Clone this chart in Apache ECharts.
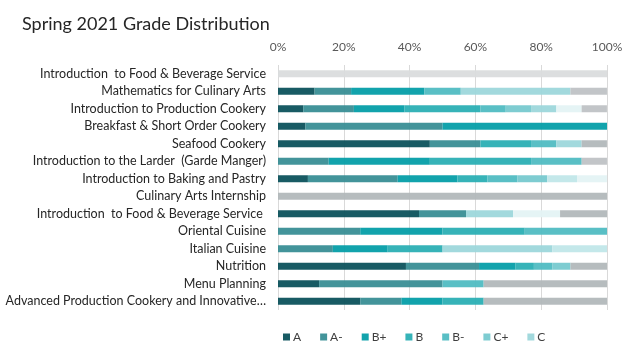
<!DOCTYPE html>
<html>
<head>
<meta charset="utf-8">
<script src="https://cdn.jsdelivr.net/npm/echarts@6/dist/echarts.min.js"></script>
<style>
html,body{margin:0;padding:0;background:#fff;}
#chart{width:627px;height:348px;}
</style>
</head>
<body>
<div id="chart"></div>
<script>
const categories = [
  "Introduction  to Food & Beverage Service",
  "Mathematics for Culinary Arts",
  "Introduction to Production Cookery",
  "Breakfast & Short Order Cookery",
  "Seafood Cookery",
  "Introduction to the Larder  (Garde Manger)",
  "Introduction to Baking and Pastry",
  "Culinary Arts Internship",
  "Introduction  to Food & Beverage Service ",
  "Oriental Cuisine",
  "Italian Cuisine",
  "Nutrition",
  "Menu Planning",
  "Advanced Production Cookery and Innovative\u2026"
];
const xTicks = [0, 20, 40, 60, 80, 100];
const legendNames = ["A", "A-", "B+", "B", "B-", "C+", "C"];

const gradeA      = [0, 11.11, 7.69, 8.33, 46.15, 0, 9.09, 0, 42.86, 0, 0, 38.89, 12.5, 25];
const gradeAminus = [0, 11.11, 15.38, 41.67, 15.38, 15.38, 27.27, 0, 14.29, 25, 16.67, 22.22, 37.5, 12.5];
const gradeBplus  = [0, 22.22, 15.38, 50, 0, 30.77, 18.18, 0, 0, 25, 16.67, 11.11, 0, 12.5];
const gradeB      = [0, 0, 23.08, 0, 15.38, 30.77, 9.09, 0, 0, 25, 16.67, 5.56, 0, 12.5];
const gradeBminus = [0, 11.11, 7.69, 0, 7.69, 15.38, 9.09, 0, 0, 25, 0, 5.56, 12.5, 0];
const gradeCplus  = [0, 0, 7.69, 0, 0, 0, 9.09, 0, 0, 0, 0, 5.56, 0, 0];
const gradeC      = [0, 33.33, 7.69, 0, 7.69, 0, 0, 0, 14.29, 0, 33.33, 0, 0, 0];
const gradeCminus = [0, 0, 0, 0, 0, 0, 9.09, 0, 0, 0, 16.67, 0, 0, 0];
const gradeD      = [0, 0, 7.69, 0, 0, 0, 9.09, 0, 14.29, 0, 0, 0, 0, 0];
const gradeF      = [0, 11.11, 7.69, 0, 0, 7.69, 0, 0, 0, 0, 0, 0, 0, 0];
const gradeW      = [0, 0, 0, 0, 7.69, 0, 0, 100, 14.29, 0, 0, 11.11, 37.5, 37.5];
const gradeOther  = [100, 0, 0, 0, 0, 0, 0, 0, 0, 0, 0, 0, 0, 0];

const seriesDefs = [
  ["A", gradeA, "#064f58"],
  ["A-", gradeAminus, "#358c92"],
  ["B+", gradeBplus, "#009ca6"],
  ["B", gradeB, "#27adb3"],
  ["B-", gradeBminus, "#4cbac1"],
  ["C+", gradeCplus, "#74c8cd"],
  ["C", gradeC, "#9bd6da"],
  ["C-", gradeCminus, "#bfe6e8"],
  ["D", gradeD, "#e3f3f4"],
  ["F", gradeF, "#bdc1c4"],
  ["W", gradeW, "#b0b7b9"],
  ["Other", gradeOther, "#d9dcdd"]
];

const FONT = "Lato";
const chart = echarts.init(document.getElementById('chart'), null, {renderer: 'canvas'});
chart.setOption({
  animation: false,
  backgroundColor: '#ffffff',
  title: {
    text: 'Spring 2021 Grade Distribution',
    left: 17, top: 10,
    textStyle: {fontFamily: FONT, fontSize: 18, fontWeight: 'normal', color: '#262626'}
  },
  legend: {
    data: legendNames,
    left: 278, top: 326,
    itemWidth: 7, itemHeight: 7, itemGap: 19,
    icon: 'rect',
    textStyle: {fontFamily: FONT, fontSize: 12, color: '#404040', padding: [0,0,0,-2]}
  },
  grid: {left: 278, right: 20, top: 65, bottom: 38, containLabel: false},
  xAxis: {
    type: 'value', position: 'top', min: 0, max: 100, interval: 20,
    axisLine: {show: false}, axisTick: {show: false},
    axisLabel: {fontFamily: FONT, fontSize: 12, color: '#595959', margin: 12,
      formatter: v => xTicks.includes(v) ? v + '%' : ''},
    splitLine: {lineStyle: {color: '#d9d9d9', width: 1}}
  },
  yAxis: {
    type: 'category', data: categories, inverse: true,
    axisLine: {show: false}, axisTick: {show: false},
    axisLabel: {fontFamily: FONT, fontSize: 12.5, color: '#262626', margin: 12, interval: 0}
  },
  series: seriesDefs.map(([name, values, color]) => ({
    name, type: 'bar', stack: 'total', data: values, barWidth: 7,
    itemStyle: {color, opacity: 0.93},
    emphasis: {disabled: true}
  }))
});
</script>
</body>
</html>
